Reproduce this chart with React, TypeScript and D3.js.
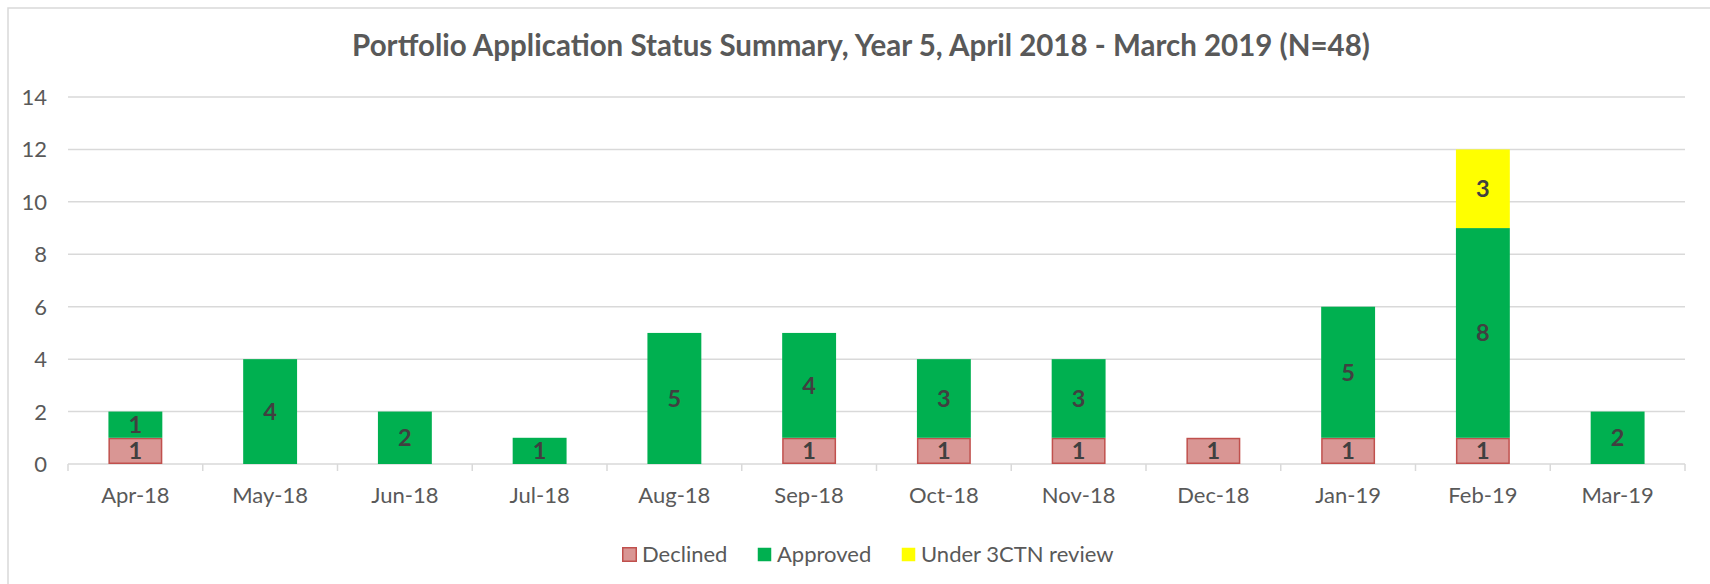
import React from "react";
import * as d3 from "d3";

const months = ["Apr-18","May-18","Jun-18","Jul-18","Aug-18","Sep-18","Oct-18","Nov-18","Dec-18","Jan-19","Feb-19","Mar-19"];
const declined = [1,0,0,0,0,1,1,1,1,1,1,0];
const approved = [1,4,2,1,5,4,3,3,0,5,8,2];
const underReview = [0,0,0,0,0,0,0,0,0,0,3,0];
const yTicks = [0,2,4,6,8,10,12,14];
const seriesNames = ["Declined","Approved","Under 3CTN review"];
const title = "Portfolio Application Status Summary, Year 5, April 2018 - March 2019 (N=48)";

const W = 1710, H = 584;
const FONT = "Lato, 'Open Sans', sans-serif";
const GRID = "#d9d9d9";
const TXT = "#595959";

const fills = ["#d99694", "#00b050", "#ffff00"];
const strokes = ["#c0504d", "none", "none"];

export default function App() {
  const x = d3.scaleBand<string>().domain(months).range([68, 1685]).paddingInner(0.6).paddingOuter(0.3);
  const y = d3.scaleLinear().domain([0, 14]).range([464, 97]);
  const step = x.step();
  const rows = months.map((m, i) => ({ m, v: [declined[i], approved[i], underReview[i]] }));
  const stack = d3.stack<any>().keys([0, 1, 2] as any).value((d: any, k: any) => d.v[k]);
  const series = stack(rows as any);

  return (
    <svg width={W} height={H} style={{ position: "absolute", left: 0, top: 0, background: "#fff" }} fontFamily={FONT}>
      <rect x={0} y={0} width={W} height={H} fill="#fff" />
      <rect x={8} y={8} width={W + 20} height={H + 20} fill="none" stroke={GRID} strokeWidth={1.5} />
      <text x={861} y={56} textAnchor="middle" fontSize={29.5} fontWeight="bold" fill={TXT}>{title}</text>
      {yTicks.map(t => (
        <g key={t}>
          {t > 0 && <line x1={68} x2={1685} y1={y(t)} y2={y(t)} stroke={GRID} strokeWidth={1.5} />}
          <text x={47} y={y(t) + 8} textAnchor="end" fontSize={22} fill={TXT}>{t}</text>
        </g>
      ))}
      <line x1={68} x2={1685} y1={y(0)} y2={y(0)} stroke={GRID} strokeWidth={1.5} />
      {d3.range(months.length + 1).map(i => {
        const xx = 68 + i * step;
        return <line key={i} x1={xx} x2={xx} y1={y(0)} y2={y(0) + 7} stroke={GRID} strokeWidth={1.5} />;
      })}
      {months.map(m => (
        <text key={m} x={(x(m) as number) + x.bandwidth() / 2} y={503} textAnchor="middle" fontSize={22} fill={TXT}>{m}</text>
      ))}
      {series.map((s, si) => (
        <g key={si}>
          {s.map((d, i) => {
            const val = d[1] - d[0];
            if (val <= 0) return null;
            const bx = x(months[i]) as number;
            const y0 = y(d[0]), y1 = y(d[1]);
            const sw = strokes[si] === "none" ? 0 : 1.5;
            return (
              <g key={i}>
                <rect x={bx + sw / 2} y={y1 + sw / 2} width={x.bandwidth() - sw} height={y0 - y1 - sw}
                  fill={fills[si]} stroke={strokes[si]} strokeWidth={sw} />
                <text x={bx + x.bandwidth() / 2} y={(y0 + y1) / 2 + 8.5} textAnchor="middle" fontSize={23.5} fontWeight="bold" fill="#404040">{val}</text>
              </g>
            );
          })}
        </g>
      ))}
      {seriesNames.map((n, i) => {
        const lx = [622, 757, 901][i];
        return (
          <g key={n}>
            <rect x={lx + 0.75} y={547.75} width={13.5} height={13.5} fill={fills[i]} stroke={strokes[i]} strokeWidth={strokes[i] === "none" ? 0 : 1.5} />
            <text x={lx + 20} y={562} fontSize={22} fill={TXT}>{n}</text>
          </g>
        );
      })}
    </svg>
  );
}
